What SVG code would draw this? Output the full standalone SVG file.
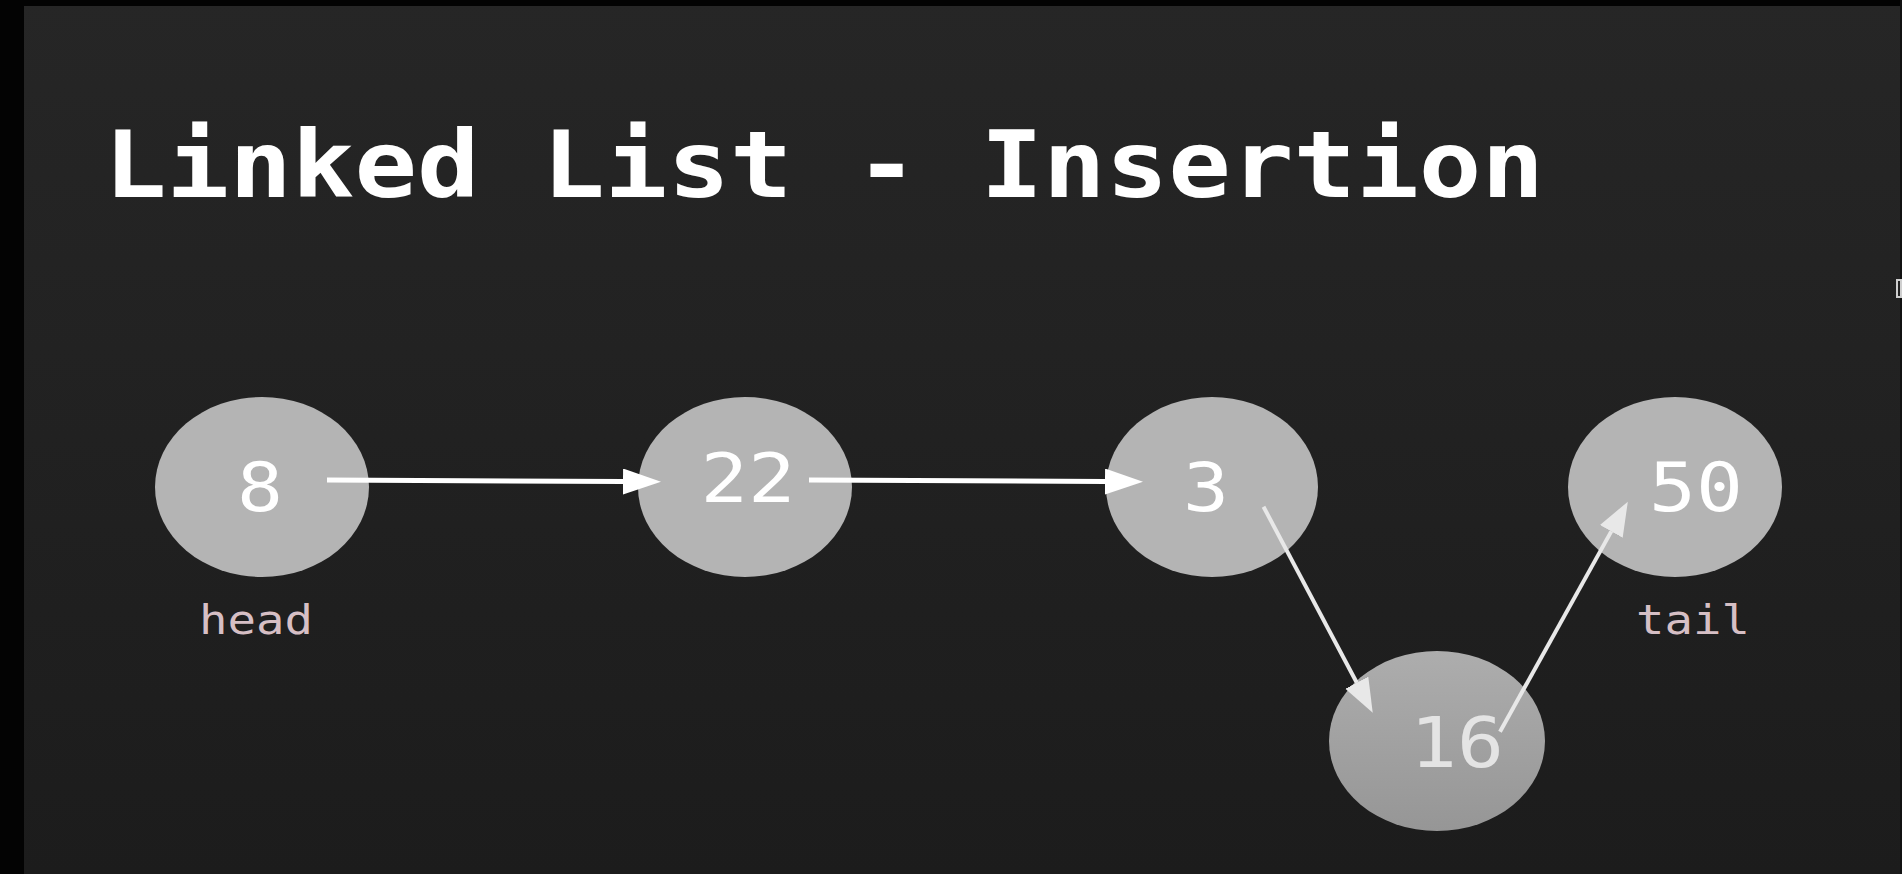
<svg xmlns="http://www.w3.org/2000/svg" width="1902" height="874" viewBox="0 0 1902 874">
<defs>
<linearGradient id="bg" x1="0" y1="0" x2="0" y2="1">
<stop offset="0" stop-color="#262626"/>
<stop offset="1" stop-color="#1c1c1c"/>
</linearGradient>
<linearGradient id="fade" x1="0" y1="0" x2="0" y2="1">
<stop offset="0" stop-color="#adadad"/>
<stop offset="1" stop-color="#969696"/>
</linearGradient>
<marker id="headW" markerUnits="userSpaceOnUse" markerWidth="40" markerHeight="27" refX="0" refY="13" orient="auto" viewBox="0 0 40 27">
<path d="M0,0 L38,13 L0,26 z" fill="#ffffff"/>
</marker>
<marker id="headG" markerUnits="userSpaceOnUse" markerWidth="36" markerHeight="27" refX="0" refY="13" orient="auto" viewBox="0 0 36 27">
<path d="M0,0 L34,13 L0,26 z" fill="#e8e8e8"/>
</marker>
<style>
.node{fill:#b4b4b4}
.val{font-family:"DejaVu Sans Mono","Liberation Mono",monospace;font-size:67px;fill:#ffffff;text-anchor:middle}
.lbl{font-family:"DejaVu Sans Mono","Liberation Mono",monospace;font-size:41px;fill:#d6bfc5}
.title{font-family:"DejaVu Sans Mono","Liberation Mono",monospace;font-weight:bold;font-size:93px;fill:#ffffff}
.w{stroke:#ffffff;stroke-width:5;fill:none;marker-end:url(#headW)}
.g{stroke:#e8e8e8;stroke-width:4;fill:none;marker-end:url(#headG)}
</style>
</defs>
<rect x="0" y="0" width="1902" height="874" fill="url(#bg)"/>
<rect x="0" y="0" width="1902" height="6" fill="#030303"/>
<rect x="0" y="0" width="24" height="874" fill="#030303"/>
<rect x="1900" y="0" width="2" height="874" fill="#111111"/>
<rect x="1897" y="280" width="4" height="17" fill="none" stroke="#cfcfcf" stroke-width="2"/>

<text class="title" x="104" y="197" textLength="1440" lengthAdjust="spacingAndGlyphs">Linked List - Insertion</text>

<g id="node-8">
<ellipse class="node" cx="262" cy="487" rx="107" ry="90"/>
<text class="val" x="260" y="511" textLength="46" lengthAdjust="spacingAndGlyphs">8</text>
</g>
<g id="node-22">
<ellipse class="node" cx="745" cy="487" rx="107" ry="90"/>
<text class="val" x="748" y="502" textLength="95" lengthAdjust="spacingAndGlyphs">22</text>
</g>
<g id="node-3">
<ellipse class="node" cx="1212" cy="487" rx="106" ry="90"/>
<text class="val" x="1206" y="511" textLength="46" lengthAdjust="spacingAndGlyphs">3</text>
</g>
<g id="node-50">
<ellipse class="node" cx="1675" cy="487" rx="107" ry="90"/>
<text class="val" x="1696" y="511" textLength="94" lengthAdjust="spacingAndGlyphs">50</text>
</g>
<g id="node-16">
<ellipse cx="1437" cy="741" rx="108" ry="90" fill="url(#fade)"/>
<text class="val" x="1457" y="767" style="font-size:69px;fill:#e4e4e4" textLength="94" lengthAdjust="spacingAndGlyphs">16</text>
</g>

<g id="labels">
<text class="lbl" x="199" y="634" textLength="114" lengthAdjust="spacingAndGlyphs">head</text>
<text class="lbl" x="1636" y="634" textLength="114" lengthAdjust="spacingAndGlyphs">tail</text>
</g>

<g id="connectors">
<line class="w" x1="327" y1="480" x2="623" y2="481.5"/>
<line class="w" x1="809" y1="480" x2="1105" y2="481.5"/>
<line class="g" x1="1263.5" y1="506.7" x2="1356.8" y2="682.7"/>
<line class="g" x1="1500" y1="731.7" x2="1611.3" y2="531.4"/>
</g>
</svg>
